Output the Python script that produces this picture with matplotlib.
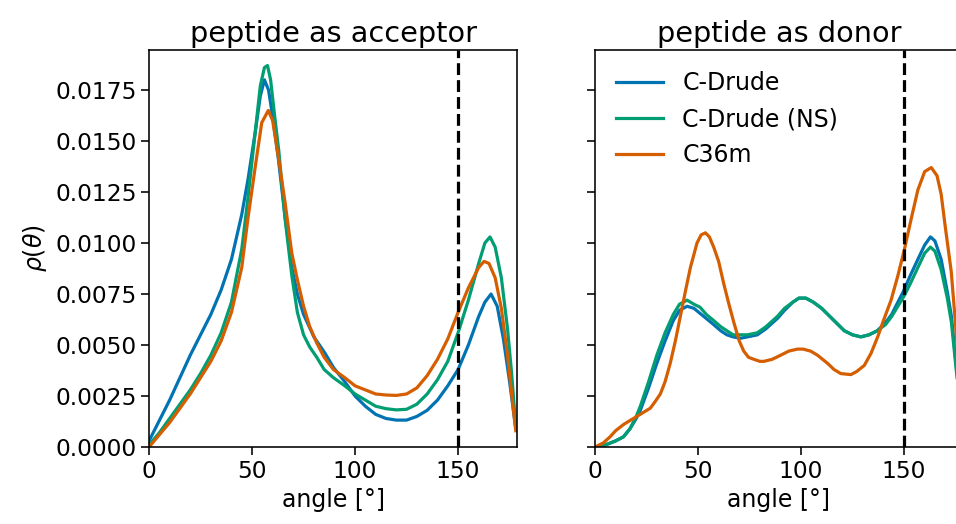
import matplotlib
matplotlib.use("Agg")
import matplotlib.pyplot as plt

# peptide as acceptor
acc_drude_x = [0, 5, 10, 15, 20, 25, 30, 35, 40, 45, 48, 51.5, 54, 56, 58, 60, 62.8, 66, 69.3, 72, 75,
               80, 85.4, 89.5, 95, 100, 105, 110, 115, 120, 125, 130, 135, 140, 145, 150, 155, 160,
               163, 166, 169, 172, 175, 178]
acc_drude_y = [0.0003, 0.0013, 0.0023, 0.0034, 0.0045, 0.0055, 0.0065, 0.0077, 0.0092, 0.0114, 0.0131,
               0.0154, 0.0172, 0.0180, 0.0175, 0.0162, 0.0141, 0.0113, 0.0088, 0.0075, 0.0065,
               0.0054, 0.0046, 0.0039, 0.0032, 0.0025, 0.0020, 0.0016, 0.0014, 0.00132, 0.00132,
               0.0015, 0.0018, 0.0023, 0.0030, 0.0038, 0.0050, 0.0064, 0.0071, 0.0075, 0.0069,
               0.0053, 0.0032, 0.0009]

acc_ns_x = [0, 5, 10, 15, 20, 25, 30, 35, 40, 45, 48, 51.5, 54, 56, 57.5, 59, 61, 63, 66, 69.3, 72, 75,
            78, 81.4, 85, 89.5, 95, 100, 105, 110, 115, 120, 125, 130, 135, 140, 145, 150, 155, 160,
            163, 165.5, 168, 171, 174, 176, 178]
acc_ns_y = [0.0001, 0.0007, 0.0014, 0.0021, 0.0028, 0.0036, 0.0045, 0.0056, 0.0071, 0.0097, 0.0122,
            0.0154, 0.0177, 0.0186, 0.0187, 0.0180, 0.0162, 0.0145, 0.0112, 0.0084, 0.0066, 0.0055,
            0.0049, 0.0044, 0.0038, 0.0034, 0.0030, 0.0026, 0.0023, 0.0020, 0.00188, 0.00182,
            0.00185, 0.0021, 0.0026, 0.0033, 0.0042, 0.0056, 0.0072, 0.0090, 0.0100, 0.0103,
            0.0098, 0.0083, 0.0058, 0.0036, 0.0010]

acc_c36_x = [0, 5, 10, 15, 20, 25, 30, 35, 40, 45, 48, 51.5, 54.7, 57.9, 60, 62.8, 66, 69.3, 72, 75,
             78, 81.4, 85, 89.5, 95, 100, 105, 110, 115, 120, 125, 130, 135, 140, 145, 150, 155,
             160, 162.6, 165, 168, 171, 174, 176, 178]
acc_c36_y = [0.0000, 0.0006, 0.0012, 0.0019, 0.0026, 0.0034, 0.0042, 0.0052, 0.0066, 0.0088, 0.0112,
             0.0137, 0.0159, 0.0165, 0.0160, 0.0142, 0.0120, 0.0095, 0.0082, 0.0069, 0.0059,
             0.0051, 0.0044, 0.0038, 0.0034, 0.0030, 0.0028, 0.0026, 0.00255, 0.00253, 0.0026,
             0.0029, 0.0035, 0.0043, 0.0053, 0.0066, 0.0078, 0.0088, 0.0091, 0.0090, 0.0083,
             0.0068, 0.0045, 0.0026, 0.0008]

# peptide as donor
don_drude_x = [0, 5, 10, 13.8, 17, 20, 22, 26, 30, 34, 38, 41, 44.7, 48, 51, 54, 57.6, 61, 64, 67,
               70.6, 74, 78.8, 83, 88.5, 92, 96, 99, 102.3, 106, 110, 113, 117, 121, 125, 129, 133,
               137, 141, 144, 147, 150, 153, 156.7, 160, 162.8, 165, 168, 171, 173, 175.8, 178]
don_drude_y = [0.0, 0.0001, 0.0003, 0.0005, 0.0009, 0.0014, 0.0018, 0.0029, 0.0041, 0.0052, 0.0062,
               0.0067, 0.0069, 0.0068, 0.00655, 0.0063, 0.0060, 0.0057, 0.0055, 0.0054, 0.00533,
               0.0054, 0.0055, 0.0058, 0.0063, 0.0067, 0.0071, 0.0073, 0.0073, 0.0071, 0.0068,
               0.0065, 0.0061, 0.0057, 0.0055, 0.0054, 0.0055, 0.0057, 0.0061, 0.0065, 0.0071,
               0.0077, 0.0084, 0.0092, 0.0099, 0.0103, 0.0101, 0.0092, 0.0076, 0.0064, 0.0035,
               0.0010]

don_ns_x = [0, 5, 10, 13.8, 17, 20, 22, 26, 30, 34, 38, 41, 44.7, 48, 51, 54, 57.6, 61, 64, 67,
            70.6, 74, 78.8, 83, 88.5, 92, 96, 99, 102.3, 106, 110, 113, 117, 121, 125, 129, 133,
            137, 141, 144, 147, 150, 153, 156.7, 160, 162.8, 165, 168, 171, 173, 175.8, 178]
don_ns_y = [0.0, 0.0001, 0.0003, 0.0005, 0.0009, 0.0015, 0.0020, 0.0032, 0.0045, 0.0056, 0.0065,
            0.0070, 0.0072, 0.0070, 0.00685, 0.0065, 0.0062, 0.0059, 0.0057, 0.0055, 0.0055,
            0.0055, 0.0056, 0.0059, 0.0064, 0.0068, 0.0071, 0.0073, 0.0073, 0.0071, 0.0068,
            0.0065, 0.0061, 0.0057, 0.0055, 0.0054, 0.0055, 0.0057, 0.0060, 0.0064, 0.0069,
            0.0074, 0.0080, 0.0088, 0.0095, 0.0098, 0.0096, 0.0087, 0.0073, 0.0061, 0.0033,
            0.0010]

don_c36_x = [0, 4, 7.3, 10, 13.8, 17, 20.3, 23.5, 26.8, 29, 31.7, 34, 36.5, 39, 41.4, 44, 46.3,
             49.5, 51.5, 53.6, 55.5, 57.6, 60, 62.5, 65, 67.4, 70, 72.2, 74.5, 77.1, 80, 82, 86,
             90.1, 94, 98.2, 101, 104.7, 108, 112.9, 116, 119.3, 124.2, 127, 130.7, 134, 137.2,
             140, 143.7, 147, 150.2, 153.5, 156.7, 160, 163.2, 166, 168, 170, 172.9, 175, 177, 179]
don_c36_y = [0.0, 0.0002, 0.0005, 0.0008, 0.0011, 0.0013, 0.0015, 0.0017, 0.0019, 0.0022, 0.0026,
             0.0032, 0.0041, 0.0052, 0.0064, 0.0077, 0.0088, 0.0100, 0.0104, 0.0105, 0.0103,
             0.0098, 0.0091, 0.0080, 0.0070, 0.0061, 0.0052, 0.0047, 0.0044, 0.0043, 0.0042,
             0.0042, 0.0043, 0.0045, 0.0047, 0.0048, 0.0048, 0.0047, 0.0045, 0.0041, 0.0038,
             0.0036, 0.00355, 0.0037, 0.0040, 0.0046, 0.0054, 0.0062, 0.0072, 0.0084, 0.0097,
             0.0112, 0.0126, 0.0135, 0.0137, 0.0133, 0.0124, 0.0108, 0.0086, 0.0060, 0.0030,
             0.0008]

labels = ["C-Drude", "C-Drude (NS)", "C36m"]
colors = ["#0173b2", "#029e73", "#d55e00"]
titles = ["peptide as acceptor", "peptide as donor"]

plt.rcParams["axes.linewidth"] = 1.15
plt.rcParams["xtick.major.width"] = 1.15
plt.rcParams["ytick.major.width"] = 1.15
plt.rcParams["xtick.major.size"] = 5.5
plt.rcParams["ytick.major.size"] = 5.5
plt.rcParams["xtick.labelsize"] = 16.8
plt.rcParams["ytick.labelsize"] = 16.8

fig = plt.figure(figsize=(9.56, 5.24), dpi=100)
ax1 = fig.add_axes([0.1559, 0.1469, 0.3849, 0.7576])
ax2 = fig.add_axes([0.6224, 0.1469, 0.3849, 0.7576], sharey=ax1)

data = [
    [(acc_drude_x, acc_drude_y), (acc_ns_x, acc_ns_y), (acc_c36_x, acc_c36_y)],
    [(don_drude_x, don_drude_y), (don_ns_x, don_ns_y), (don_c36_x, don_c36_y)],
]

for ax, series, title in zip([ax1, ax2], data, titles):
    for (x, y), lab, c in zip(series, labels, colors):
        ax.plot(x, y, color=c, lw=2.3, label=lab)
    ax.axvline(150, color="black", ls="--", lw=2.3)
    ax.set_xlim(0, 178.6)
    ax.set_xticks([0, 50, 100, 150])
    ax.set_title(title, fontsize=20.7)
    ax.set_xlabel("angle [°]", fontsize=17)

ax1.set_ylim(0, 0.01946)
ax1.set_yticks([0, 0.0025, 0.005, 0.0075, 0.01, 0.0125, 0.015, 0.0175])
ax1.set_ylabel(r"$\rho(\theta)$", fontsize=17)
ax2.tick_params(labelleft=False)
ax2.legend(loc="upper left", frameon=False, fontsize=17)

fig.savefig("out.png", dpi=100)
